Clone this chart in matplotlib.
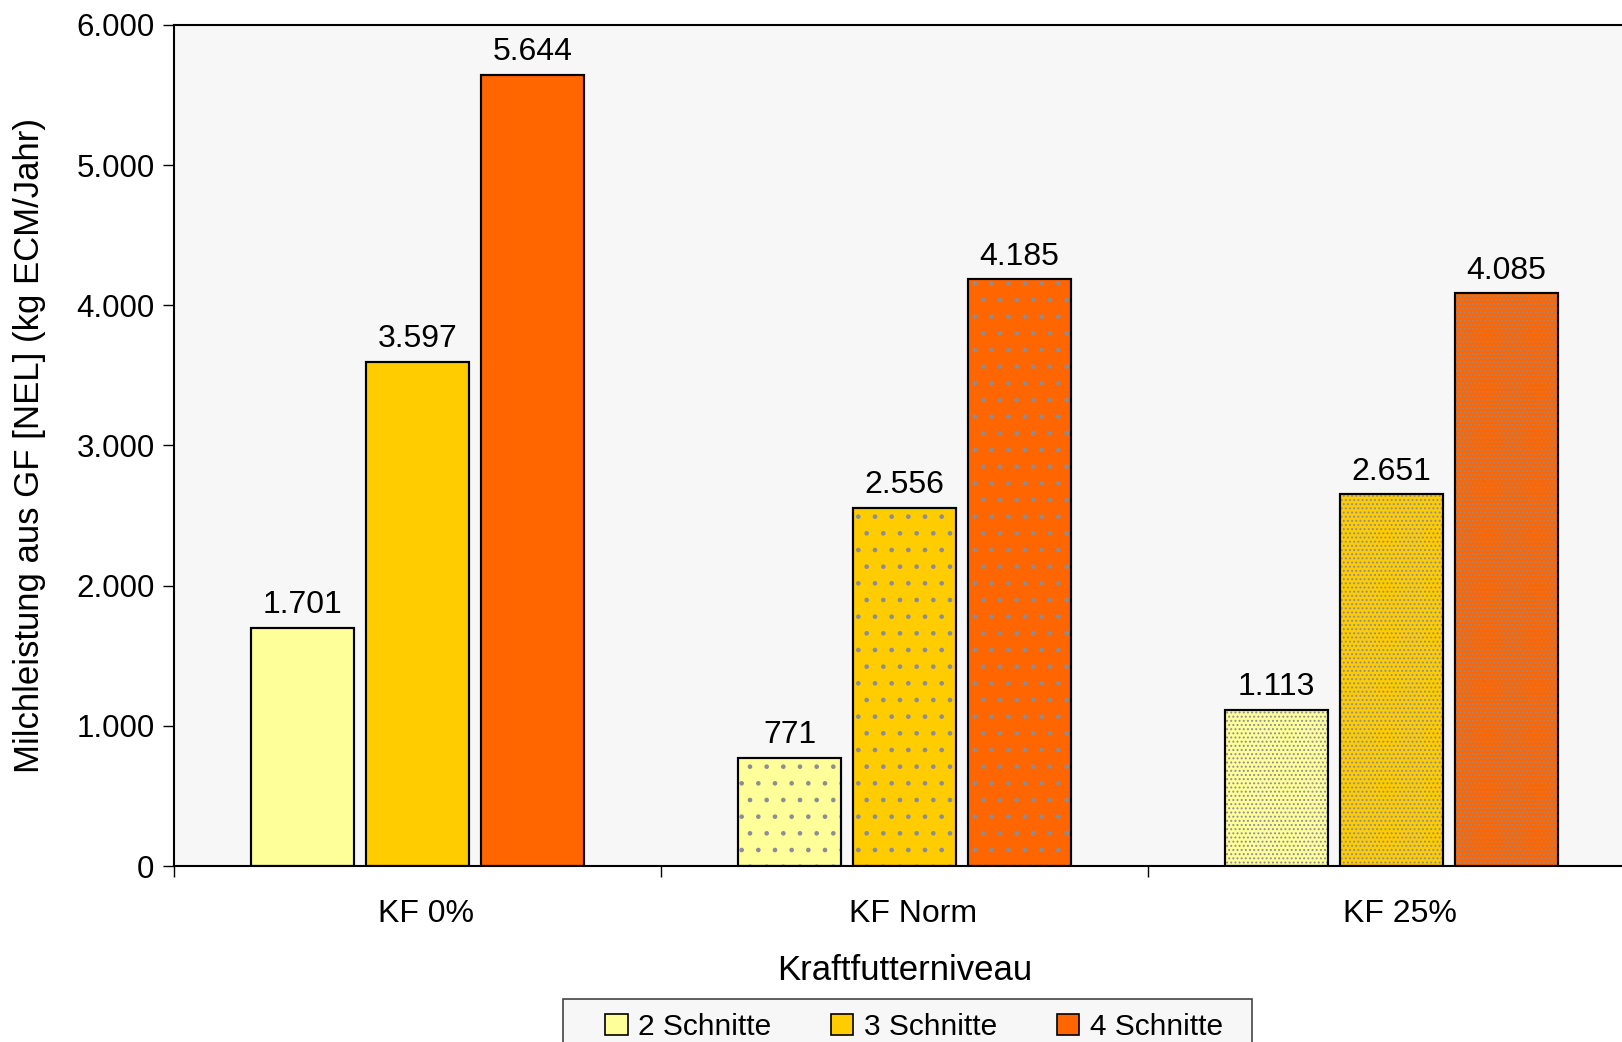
import numpy as np
import matplotlib
matplotlib.use("Agg")
from matplotlib import pyplot as plt
from matplotlib.patches import Patch, Rectangle
from matplotlib.transforms import ScaledTranslation

plt.rcParams['font.family'] = ['Liberation Sans', 'DejaVu Sans']
plt.rcParams['hatch.linewidth'] = 0.9

# Daten
categories = ["KF 0%", "KF Norm", "KF 25%"]
series_names = ["2 Schnitte", "3 Schnitte", "4 Schnitte"]
schnitte_2 = [1701, 771, 1113]
schnitte_3 = [3597, 2556, 2651]
schnitte_4 = [5644, 4185, 4085]
colors = ["#ffff99", "#ffcc00", "#ff6600"]
hatches = [None, ".", "...."]  # je Kraftfutterniveau

fig = plt.figure(figsize=(16.22, 10.42), dpi=100)
ax = fig.add_axes([0.1073, 0.1689, 0.9007, 0.8073])
ax.set_facecolor("#f7f7f7")

x = np.arange(len(categories))
width = 0.212
step = 0.2357

for i, vals in enumerate([schnitte_2, schnitte_3, schnitte_4]):
    xs = x + (i - 1) * step
    ax.bar(xs, vals, width, color=colors[i], edgecolor="black", linewidth=1.5, zorder=2)
    # Muster als zweite Lage, grau
    for j in range(len(categories)):
        if hatches[j]:
            ax.bar(xs[j], vals[j], width, color="none", edgecolor="#8c8c96",
                   hatch=hatches[j], linewidth=0, zorder=3)
    ax.bar(xs, vals, width, color="none", edgecolor="black", linewidth=1.5, zorder=4)
    for xi, v in zip(xs, vals):
        lab = "{:,}".format(v).replace(",", ".")
        ax.text(xi, v + 55, lab, ha="center", va="bottom", fontsize=23)

ax.set_xlim(-0.5, 2.5)
ax.set_ylim(0, 6000)
ax.set_yticks(np.arange(0, 6001, 1000))
ax.set_yticklabels(["{:,}".format(t).replace(",", ".") for t in range(0, 6001, 1000)])
ax.set_xticks([-0.5, 0.5, 1.5, 2.5])
ax.set_xticklabels([])
ax.set_xticks(x, minor=True)
ax.set_xticklabels(categories, minor=True)
ax.tick_params(axis="x", which="minor", length=0, labelsize=23, pad=24)
ax.tick_params(axis="x", which="major", length=8, width=1, direction="out")
ax.tick_params(axis="y", length=8, width=1, direction="out", labelsize=22.5, pad=6)

# Kategorienamen etwas nach rechts
shift = ScaledTranslation(0.085, 0, fig.dpi_scale_trans)
for lbl in ax.get_xticklabels(minor=True):
    lbl.set_transform(lbl.get_transform() + shift)

for s in ["left", "bottom", "top"]:
    ax.spines[s].set_linewidth(1.5)
ax.spines["right"].set_visible(False)

ax.set_xlabel("Kraftfutterniveau", fontsize=25, labelpad=18)
ax.set_ylabel("Milchleistung aus GF [NEL] (kg ECM/Jahr)", fontsize=25, labelpad=22)

# Legendenrahmen (unten abgeschnitten)
box = Rectangle((0.347, -0.05), 0.4248, 0.0913, transform=fig.transFigure,
                facecolor="#f7f7f7", edgecolor="#444444", linewidth=1.2, zorder=0)
fig.patches.append(box)

handles = [Patch(facecolor=c, edgecolor="black", linewidth=1.2) for c in colors]
leg = fig.legend(handles, series_names, loc="center", bbox_to_anchor=(0.5635, 0.0145),
                 ncol=3, fontsize=21.5, frameon=False,
                 handlelength=0.75, handleheight=0.75, handletextpad=0.35,
                 columnspacing=2.0, borderpad=0.2)

fig.savefig("out.png", dpi=100)
